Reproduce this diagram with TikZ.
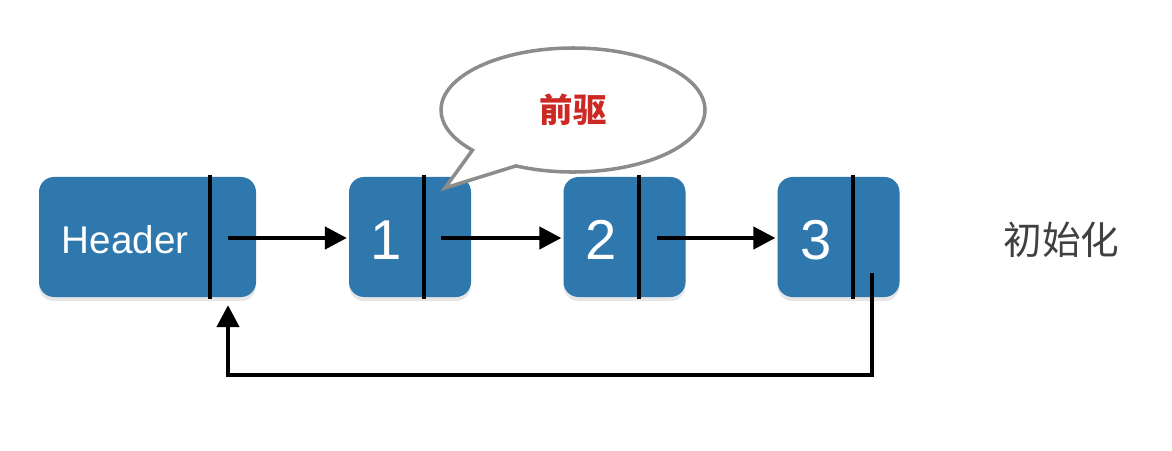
\documentclass[tikz,border=0pt]{standalone}
\usepackage{fontspec}
\setmainfont{Liberation Sans}
\newfontfamily\cjk{Noto Sans CJK SC}
\usetikzlibrary{arrows.meta,shapes.callouts,shadows}
\definecolor{boxblue}{RGB}{46,120,174}
\definecolor{tipred}{RGB}{204,40,36}
\definecolor{bubblegray}{RGB}{140,140,140}
\begin{document}
\begin{tikzpicture}[line width=1.2pt, >={Triangle[length=0.22cm,width=0.22cm]}]
	\tikzstyle{cell} = [rounded corners=0.15cm, fill=boxblue, minimum height=1.2cm, minimum width=1.22cm, inner sep=0pt, drop shadow={opacity=0.2, shadow xshift=0pt, shadow yshift=-0.04cm}]
	\tikzstyle{val} = [text=white, inner sep=0pt, font=\fontsize{16}{16}\selectfont]
	\tikzstyle{bar} = [line width=1pt]
	\tikzstyle{bubble} = [ellipse callout, draw=bubblegray, fill=white, line width=1pt, minimum width=2.64cm, minimum height=1.24cm, callout pointer arc=24]
	\useasboundingbox (0,0) rectangle (11.72,4.5);
	% list cells
	\node[cell, minimum width=2.17cm] (h) at (1.475,2.13) {};
	\node[cell] (n1) at (4.10,2.13) {};
	\node[cell] (n2) at (6.245,2.13) {};
	\node[cell] (n3) at (8.385,2.13) {};
	\node[val, font=\fontsize{11}{11}\selectfont] (th) at (1.25,2.10) {Header};
	\node[val] (t1) at (3.86,2.10) {1};
	\node[val] (t2) at (6.01,2.10) {2};
	\node[val] (t3) at (8.16,2.10) {3};
	% dividers
	\draw[bar] (2.10,0 |- h.north) -- (2.10,0 |- h.south);
	\draw[bar] (4.24,0 |- n1.north) -- (4.24,0 |- n1.south);
	\draw[bar] (6.39,0 |- n2.north) -- (6.39,0 |- n2.south);
	\draw[bar] (8.53,0 |- n3.north) -- (8.53,0 |- n3.south);
	% next pointers
	\coordinate (ph) at (2.28,2.12);
	\coordinate (p1) at (4.41,2.12);
	\coordinate (p2) at (6.57,2.12);
	\coordinate (p3) at (8.72,1.77);
	\coordinate (back) at (8.72,0.75);
	\draw[->] (ph) -- (ph -| n1.west);
	\draw[->] (p1) -- (p1 -| n2.west);
	\draw[->] (p2) -- (p2 -| n3.west);
	\draw[->, shorten >=0.06cm] (p3) -- (back) -| (ph |- h.south);
	% callout
	\coordinate (tip) at (4.45,2.62);
	\node[bubble, callout absolute pointer={(tip)}] (c) at (5.73,3.40) {\cjk\bfseries\fontsize{9.5}{9.5}\selectfont\color{tipred}前驱};
	\node[font=\cjk\fontsize{11}{11}\selectfont, text=black!75] (init) at (10.615,2.10) {初始化};
\end{tikzpicture}
\end{document}
